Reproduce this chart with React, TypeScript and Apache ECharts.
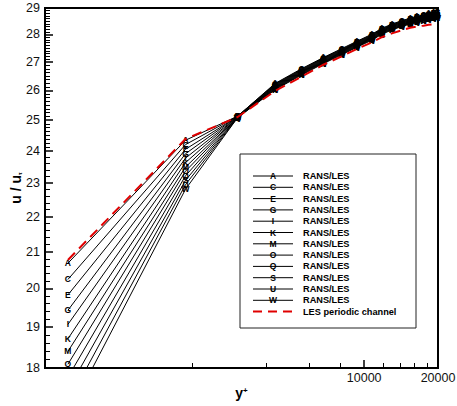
import React, { useEffect, useRef } from "react";
import * as echarts from "echarts";

// Wall-normal positions (y+) where every profile is sampled
const yPlus = [620, 1870, 3050, 4330, 5560, 6820, 8100, 9340, 10750, 11810, 12980, 14250, 15410, 16410, 17460, 18310, 19190, 19810];

// Case markers for the RANS/LES runs
const caseLetters = ["A", "C", "E", "G", "I", "K", "M", "O", "Q", "S", "U", "W"];

// Mean velocity u/u_tau for each RANS/LES case
const uA = [20.68, 24.34, 25.13, 26.24, 26.76, 27.16, 27.48, 27.75, 28.01, 28.23, 28.39, 28.52, 28.61, 28.68, 28.74, 28.79, 28.83, 28.85];
const uC = [20.24, 24.2, 25.13, 26.22, 26.74, 27.14, 27.46, 27.73, 27.99, 28.21, 28.37, 28.5, 28.59, 28.66, 28.72, 28.77, 28.81, 28.83];
const uE = [19.83, 24.05, 25.12, 26.2, 26.72, 27.12, 27.44, 27.71, 27.97, 28.19, 28.35, 28.48, 28.57, 28.64, 28.7, 28.75, 28.79, 28.81];
const uG = [19.43, 23.91, 25.12, 26.18, 26.7, 27.1, 27.42, 27.69, 27.95, 28.17, 28.33, 28.46, 28.55, 28.62, 28.68, 28.73, 28.77, 28.79];
const uI = [19.07, 23.77, 25.11, 26.16, 26.68, 27.08, 27.4, 27.67, 27.93, 28.15, 28.31, 28.44, 28.53, 28.6, 28.66, 28.71, 28.75, 28.77];
const uK = [18.71, 23.63, 25.11, 26.14, 26.66, 27.06, 27.38, 27.65, 27.91, 28.13, 28.29, 28.42, 28.51, 28.58, 28.64, 28.69, 28.73, 28.75];
const uM = [18.4, 23.49, 25.1, 26.12, 26.64, 27.04, 27.36, 27.63, 27.89, 28.11, 28.27, 28.4, 28.49, 28.56, 28.62, 28.67, 28.71, 28.73];
const uO = [18.09, 23.36, 25.1, 26.1, 26.62, 27.02, 27.34, 27.61, 27.87, 28.09, 28.25, 28.38, 28.47, 28.54, 28.6, 28.65, 28.69, 28.71];
const uQ = [17.78, 23.22, 25.09, 26.08, 26.6, 27.0, 27.32, 27.59, 27.85, 28.07, 28.23, 28.36, 28.45, 28.52, 28.58, 28.63, 28.67, 28.69];
const uS = [17.48, 23.08, 25.09, 26.06, 26.58, 26.98, 27.3, 27.57, 27.83, 28.05, 28.21, 28.34, 28.43, 28.5, 28.56, 28.61, 28.65, 28.67];
const uU = [17.19, 22.95, 25.08, 26.04, 26.56, 26.96, 27.28, 27.55, 27.81, 28.03, 28.19, 28.32, 28.41, 28.48, 28.54, 28.59, 28.63, 28.65];
const uW = [16.91, 22.81, 25.08, 26.02, 26.54, 26.94, 27.26, 27.53, 27.79, 28.01, 28.17, 28.3, 28.39, 28.46, 28.52, 28.57, 28.61, 28.63];
const ransLes = [uA, uC, uE, uG, uI, uK, uM, uO, uQ, uS, uU, uW];

// Reference LES of the periodic channel
const lesChannel = [20.77, 24.38, 25.1, 25.98, 26.48, 26.9, 27.2, 27.47, 27.71, 27.9, 28.04, 28.16, 28.25, 28.3, 28.33, 28.36, 28.38, 28.39];

// Axis ticks
const yTickValues = [18, 19, 20, 21, 22, 23, 24, 25, 26, 27, 28, 29];
const yMinorTicks = [
  18.2, 18.4, 18.6, 18.8, 19.2, 19.4, 19.6, 19.8, 20.2, 20.4, 20.6, 20.8,
  21.2, 21.4, 21.6, 21.8, 22.2, 22.4, 22.6, 22.8, 23.2, 23.4, 23.6, 23.8,
  24.125, 24.25, 24.375, 24.5, 24.625, 24.75, 24.875,
  25.125, 25.25, 25.375, 25.5, 25.625, 25.75, 25.875,
  26.125, 26.25, 26.375, 26.5, 26.625, 26.75, 26.875,
  27.1, 27.2, 27.3, 27.4, 27.5, 27.6, 27.7, 27.8, 27.9,
  28.1, 28.2, 28.3, 28.4, 28.5, 28.6, 28.7, 28.8, 28.9,
];
const xTickValues = [10000, 20000];
const xMinorTicks = [2000, 4000, 6000, 8000, 12000, 14000, 16000, 18000];

const FONT = "'Liberation Sans', Arial, sans-serif";

function buildOption(): echarts.EChartsOption {
  const xBase = { type: "log" as const, logBase: 10, min: 500, max: 20000, gridIndex: 0 };
  const yBase = { type: "log" as const, logBase: 10, min: 18, max: 29, gridIndex: 0 };

  const caseSeries = ransLes.map((vals, i) => ({
    name: caseLetters[i],
    type: "line" as const,
    xAxisIndex: 0,
    yAxisIndex: 0,
    data: yPlus.map((yp, j) => [yp, vals[j]]),
    symbol: "circle",
    symbolSize: 1,
    itemStyle: { color: "rgba(0,0,0,0)" },
    lineStyle: { color: "#000", width: 1 },
    label: {
      show: true,
      position: "inside" as const,
      formatter: caseLetters[i],
      fontSize: 8.5,
      fontWeight: "bold" as const,
      fontFamily: FONT,
      color: "#000",
    },
    clip: true,
    silent: true,
    z: 2,
  }));

  const channelSeries = {
    name: "LES periodic channel",
    type: "line" as const,
    xAxisIndex: 0,
    yAxisIndex: 0,
    data: yPlus.map((yp, j) => [yp, lesChannel[j]]),
    symbol: "none",
    lineStyle: { color: "#e00000", width: 2, type: [10, 6] as number[] },
    clip: true,
    silent: true,
    z: 3,
  };

  // Legend drawn as a framed key
  const rowY0 = 176;
  const rowStep = 11.3;
  const keyItems: any[] = [
    {
      type: "rect",
      shape: { x: 240, y: 154, width: 176, height: 174 },
      style: { fill: "#fff", stroke: "#222", lineWidth: 1 },
      z: 10,
    },
  ];
  caseLetters.forEach((letter, i) => {
    const y = rowY0 + rowStep * i;
    keyItems.push(
      { type: "line", shape: { x1: 253, y1: y, x2: 293, y2: y }, style: { stroke: "#000", lineWidth: 1 }, z: 11 },
      {
        type: "text",
        x: 273,
        y,
        style: { text: letter, fill: "#000", font: `bold 8.5px ${FONT}`, textAlign: "center", textVerticalAlign: "middle" },
        z: 12,
      },
      {
        type: "text",
        x: 303,
        y,
        style: { text: "RANS/LES", fill: "#000", font: `bold 9.2px ${FONT}`, textAlign: "left", textVerticalAlign: "middle" },
        z: 12,
      }
    );
  });
  const lesRow = rowY0 + rowStep * caseLetters.length;
  keyItems.push(
    {
      type: "line",
      shape: { x1: 253, y1: lesRow, x2: 297, y2: lesRow },
      style: { stroke: "#e00000", lineWidth: 2, lineDash: [9, 6] },
      z: 11,
    },
    {
      type: "text",
      x: 303,
      y: lesRow,
      style: { text: "LES periodic channel", fill: "#000", font: `bold 9.2px ${FONT}`, textAlign: "left", textVerticalAlign: "middle" },
      z: 12,
    }
  );

  return {
    animation: false,
    backgroundColor: "#fff",
    textStyle: { fontFamily: FONT },
    grid: {
      left: 45,
      top: 8,
      right: 19,
      bottom: 38,
      show: true,
      borderColor: "#000",
      borderWidth: 2,
      containLabel: false,
      outerBoundsMode: "none",
    } as any,
    xAxis: [
      {
        ...xBase,
        position: "bottom",
        name: "{a|y}{b|+}",
        nameLocation: "middle",
        nameGap: 18,
        nameMoveOverlap: false,
        nameTextStyle: {
          rich: {
            a: { fontSize: 14, fontWeight: "bold", color: "#000", fontFamily: FONT },
            b: { fontSize: 8, fontWeight: "bold", color: "#000", fontFamily: FONT, verticalAlign: "top" },
          },
        },
        axisLine: { show: true, lineStyle: { color: "#000", width: 2 } },
        axisTick: { show: true, inside: true, length: 8, customValues: xTickValues, lineStyle: { color: "#000", width: 1.5 } },
        axisLabel: {
          show: true,
          customValues: xTickValues,
          formatter: (v: number) => String(Math.round(v)),
          margin: 3,
          fontSize: 12.5,
          color: "#111",
          fontFamily: FONT,
        },
        splitLine: { show: false },
        minorTick: { show: false },
      },
      {
        ...xBase,
        position: "bottom",
        axisLine: { show: false },
        axisTick: { show: true, inside: true, length: 5, customValues: xMinorTicks, lineStyle: { color: "#000", width: 1 } },
        axisLabel: { show: false },
        splitLine: { show: false },
      },
    ] as any,
    yAxis: [
      {
        ...yBase,
        position: "left",
        name: "{a|u / u}{b|τ}",
        nameLocation: "middle",
        nameRotate: 90,
        nameGap: 22,
        nameMoveOverlap: false,
        nameTextStyle: {
          rich: {
            a: { fontSize: 14, fontWeight: "bold", color: "#000", fontFamily: FONT },
            b: { fontSize: 6, fontWeight: "bold", color: "#000", fontFamily: FONT, verticalAlign: "bottom" },
          },
        },
        axisLine: { show: true, lineStyle: { color: "#000", width: 2 } },
        axisTick: { show: true, inside: true, length: 8, customValues: yTickValues, lineStyle: { color: "#000", width: 1.5 } },
        axisLabel: {
          show: true,
          customValues: yTickValues,
          formatter: (v: number) => String(Math.round(v)),
          margin: 5,
          fontSize: 12.5,
          color: "#111",
          fontFamily: FONT,
        },
        splitLine: { show: false },
        minorTick: { show: false },
      },
      {
        ...yBase,
        position: "left",
        axisLine: { show: false },
        axisTick: { show: true, inside: true, length: 5, customValues: yMinorTicks, lineStyle: { color: "#000", width: 1 } },
        axisLabel: { show: false },
        splitLine: { show: false },
      },
    ] as any,
    series: [...caseSeries, channelSeries] as any,
    graphic: keyItems,
  };
}

export default function App() {
  const ref = useRef<HTMLDivElement>(null);

  useEffect(() => {
    if (!ref.current) return;
    const chart = echarts.init(ref.current, null, { renderer: "svg" });
    chart.setOption(buildOption());
    return () => chart.dispose();
  }, []);

  return (
    <div
      ref={ref}
      style={{ position: "fixed", left: 0, top: 0, width: 457, height: 406, background: "#fff" }}
    />
  );
}
